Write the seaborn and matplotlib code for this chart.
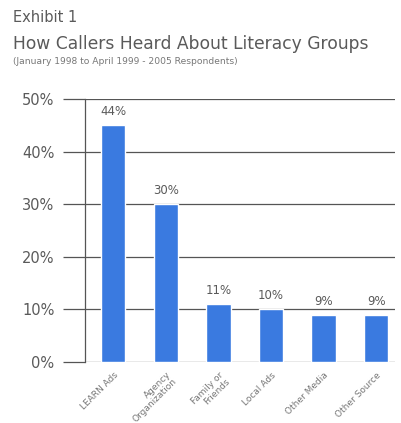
import matplotlib
matplotlib.use("Agg")
import matplotlib.pyplot as plt
import seaborn as sns
import pandas as pd

categories = ["LEARN Ads", "Agency\nOrganization", "Family or\nFriends", "Local Ads", "Other Media", "Other Source"]
values = [45, 30, 11, 10, 9, 9]
value_labels = ["44%", "30%", "11%", "10%", "9%", "9%"]
yticks = [0, 10, 20, 30, 40, 50]
ytick_labels = ["0%", "10%", "20%", "30%", "40%", "50%"]

sns.set_theme(style="white")
plt.rcParams['font.family'] = ['DejaVu Sans']

W, H = 401, 423
fig = plt.figure(figsize=(W / 100, H / 100), dpi=100)
fig.patch.set_facecolor("white")
ax = fig.add_axes([85 / W, 61 / H, 310 / W, 263 / H])

df = pd.DataFrame({"cat": categories, "val": values})
sns.barplot(data=df, x="cat", y="val", color="#3a7ae0", saturation=1, width=0.46, ax=ax)

ax.set_xlim(-0.54, 5.36)
ax.set_ylim(0, 50)
ax.set_yticks(yticks)
ax.set_yticklabels(ytick_labels, fontsize=10.5, color="#5a5a5a")
ax.tick_params(axis="y", length=16, width=0.9, color="#555555", pad=6, left=True)
ax.yaxis.grid(True, color="#555555", linewidth=0.9)
ax.set_axisbelow(True)
for s in ["top", "right", "bottom"]:
    ax.spines[s].set_visible(False)
ax.spines["left"].set_color("#555555")
ax.spines["left"].set_linewidth(0.9)

ax.set_xlabel("")
ax.set_ylabel("")
ax.set_xticks(range(len(categories)))
ax.set_xticklabels(categories, rotation=45, ha="right", rotation_mode="anchor",
                   fontsize=6.5, color="#777777", linespacing=1.0)
ax.tick_params(axis="x", length=0, pad=6)

for i, (v, lab) in enumerate(zip(values, value_labels)):
    ax.annotate(lab, (i, v), xytext=(0, 5), textcoords="offset points",
                ha="center", va="bottom", fontsize=8.5, color="#5a5a5a")

fig.text(13 / W, 1 - 18 / H, "Exhibit 1", fontsize=10.5, color="#5a5a5a", va="center", ha="left")
fig.text(13 / W, 1 - 44 / H, "How Callers Heard About Literacy Groups", fontsize=12.3,
         color="#5a5a5a", va="center", ha="left")
fig.text(13 / W, 1 - 61 / H, "(January 1998 to April 1999 - 2005 Respondents)", fontsize=6.6,
         color="#777777", va="center", ha="left")

fig.savefig("out.png", dpi=100, facecolor="white")
